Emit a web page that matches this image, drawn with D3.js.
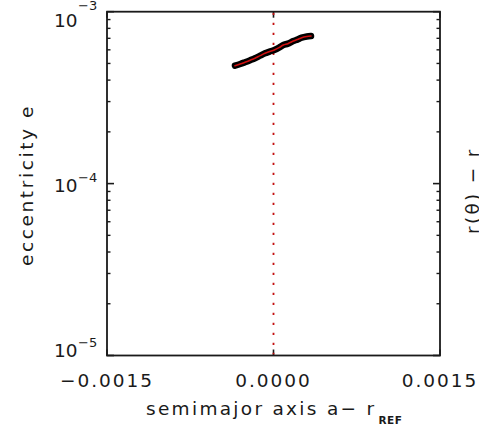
<!DOCTYPE html>
<html><head><meta charset="utf-8">
<script src="https://cdn.jsdelivr.net/npm/d3@7"></script>
<style>
html,body{margin:0;padding:0;background:#fff;}
svg{display:block;font-family:"DejaVu Sans",sans-serif;}
</style></head>
<body>
<svg id="c" width="479" height="431"></svg>
<script>
// ---- data ----
const semimajorA = [-0.000347, -0.000300, -0.000257, -0.000210, -0.000167, -0.000120, -0.0000766, -0.000035, 0.0000072, 0.000050, 0.0000883, 0.000130, 0.000178, 0.000215, 0.000254, 0.000300, 0.000338];
const eccentricity = [4.85e-4, 4.96e-4, 5.08e-4, 5.22e-4, 5.36e-4, 5.55e-4, 5.73e-4, 5.86e-4, 5.99e-4, 6.18e-4, 6.40e-4, 6.52e-4, 6.75e-4, 6.88e-4, 7.06e-4, 7.17e-4, 7.22e-4];
const xTicks = [-0.0015, 0.0, 0.0015];
const xTickLabels = ["\u22120.0015", "0.0000", "0.0015"];
const yMajor = [1e-3, 1e-4, 1e-5];
const yExponents = ["\u22123", "\u22124", "\u22125"];
const refLine = [0.0];

const svg = d3.select("#c");
const L = 107, R = 440, T = 11.7, B = 355.5;
const xs = d3.scaleLinear().domain([-0.0015, 0.0015]).range([L, R]);
const ys = d3.scaleLog().domain([1e-5, 1e-3]).range([B, T]);
const ink = "#1a1a1a";

// minor ticks
const yMinor = [];
[1e-5, 1e-4].forEach(d => { for (let k = 2; k <= 9; k++) yMinor.push(d * k); });

// left & right axes
const g = svg.append("g");
yMajor.forEach(v => {
  g.append("line").attr("x1", L).attr("x2", L + 7).attr("y1", ys(v)).attr("y2", ys(v)).attr("stroke", ink).attr("stroke-width", 1.6);
  g.append("line").attr("x1", R).attr("x2", R - 7).attr("y1", ys(v)).attr("y2", ys(v)).attr("stroke", ink).attr("stroke-width", 1.6);
});
yMinor.forEach(v => {
  g.append("line").attr("x1", L).attr("x2", L + 3.5).attr("y1", ys(v)).attr("y2", ys(v)).attr("stroke", ink).attr("stroke-width", 1.4);
  g.append("line").attr("x1", R).attr("x2", R - 3.5).attr("y1", ys(v)).attr("y2", ys(v)).attr("stroke", ink).attr("stroke-width", 1.4);
});
xTicks.forEach(v => {
  g.append("line").attr("x1", xs(v)).attr("x2", xs(v)).attr("y1", B).attr("y2", B - 6).attr("stroke", ink).attr("stroke-width", 1.6);
  g.append("line").attr("x1", xs(v)).attr("x2", xs(v)).attr("y1", T).attr("y2", T + 6).attr("stroke", ink).attr("stroke-width", 1.6);
});

// reference dotted line
refLine.forEach(v => {
  svg.append("line").attr("x1", xs(v)).attr("x2", xs(v)).attr("y1", T + 1).attr("y2", B - 1)
    .attr("stroke", "#c41010").attr("stroke-width", 1.8).attr("stroke-dasharray", "2.3 7.7");
});

// frame
svg.append("rect").attr("x", L).attr("y", T).attr("width", R - L).attr("height", B - T)
  .attr("fill", "none").attr("stroke", ink).attr("stroke-width", 1.8);

// curve
const pts = semimajorA.map((a, i) => [xs(a), ys(eccentricity[i])]);
const line = d3.line().curve(d3.curveCatmullRom);
svg.append("path").attr("d", line(pts)).attr("fill", "none").attr("stroke", "#000")
  .attr("stroke-width", 6.5).attr("stroke-linecap", "round").attr("stroke-linejoin", "round");
svg.append("path").attr("d", line(pts)).attr("fill", "none").attr("stroke", "#d01010")
  .attr("stroke-width", 1.6).attr("stroke-linecap", "round");

// y tick labels
yMajor.forEach((v, i) => {
  const base = Math.max(T + 15.3, Math.min(ys(v) + 8.5, B + 1));
  const supY = Math.min(base - 10, ys(v) - 2);
  svg.append("text").attr("x", 77.5).attr("y", base).attr("text-anchor", "end")
    .attr("font-size", 18.5).attr("fill", ink).text("10");
  svg.append("text").attr("x", 78).attr("y", supY).attr("text-anchor", "start")
    .attr("font-size", 13).attr("fill", ink).text(yExponents[i]);
});

// x tick labels
xTicks.forEach((v, i) => {
  svg.append("text").attr("x", xs(v)).attr("y", 387).attr("text-anchor", "middle")
    .attr("font-size", 18.5).attr("letter-spacing", 2).attr("fill", ink).text(xTickLabels[i]);
});

// x axis title
const xt = svg.append("text").attr("x", 146).attr("y", 414.5).attr("font-size", 18.5)
  .attr("letter-spacing", 2.3).attr("fill", ink);
xt.append("tspan").text("semimajor axis a\u2212  r");
xt.append("tspan").attr("font-size", 10.5).attr("font-weight", "bold").attr("letter-spacing", 0.5).attr("dy", 9).attr("dx", 2).text("REF");

// y axis title
svg.append("text").attr("transform", "translate(33,185) rotate(-90)").attr("text-anchor", "middle")
  .attr("font-size", 18.5).attr("letter-spacing", 2.6).attr("fill", ink).text("eccentricity e");

// clipped neighbour label
svg.append("text").attr("transform", "translate(479,234) rotate(-90)").attr("text-anchor", "start")
  .attr("font-size", 18.5).attr("letter-spacing", 2.3).attr("fill", ink).text("r(\u03B8) \u2212 r");
</script>
</body></html>
